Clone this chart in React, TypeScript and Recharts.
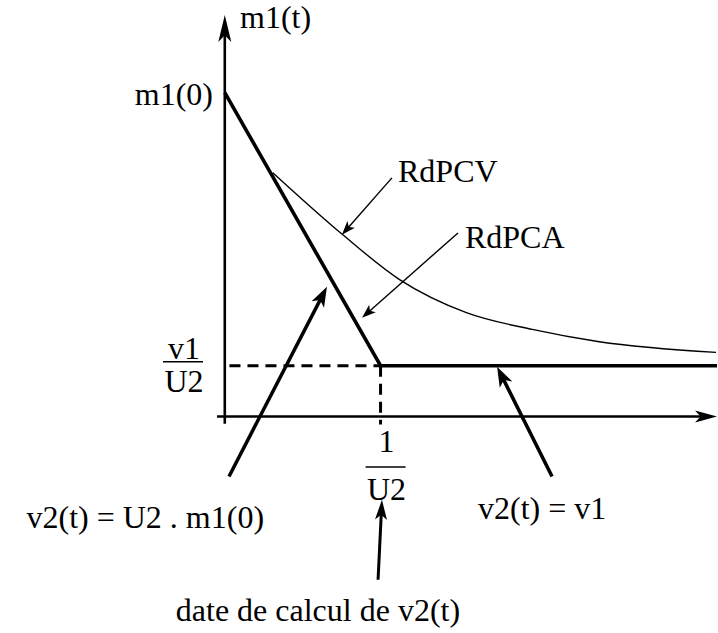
import { LineChart, Line, XAxis, YAxis, ReferenceLine, ReferenceDot } from 'recharts';

// t in units of 1/U2, m in units of m1(0)
const V1_U2 = 0.157;
const T_CALC = 1;

const RDPCA_T = [0, T_CALC, 3.16];
const RDPCA_M = [1, V1_U2, V1_U2];

const RDPCV_T = [0.308, 0.756, 1.122, 1.551, 1.974, 2.404, 3.154];
const RDPCV_M = [0.753, 0.562, 0.423, 0.321, 0.269, 0.231, 0.198];

const Y_TICKS = [V1_U2, 1];
const X_TICKS = [T_CALC];

const LABELS = ['m1(t)', 'RdPCV', 'RdPCA', 'v2(t) = U2 . m1(0)', 'v2(t) = v1', 'date de calcul de v2(t)'];

const rdpca = RDPCA_T.map((t, i) => ({ t, m: RDPCA_M[i] }));
const rdpcv = RDPCV_T.map((t, i) => ({ t, m: RDPCV_M[i] }));

// annotation placement, in data units
const LABEL_POS = [
  { t: 0.098, m: 1.2, anchor: 'start' },
  { t: 1.112, m: 0.725, anchor: 'start' },
  { t: 1.542, m: 0.521, anchor: 'start' },
  { t: 0.252, m: -0.345, anchor: 'end' },
  { t: 1.626, m: -0.315, anchor: 'start' },
  { t: 0.598, m: -0.633, anchor: 'middle' },
];

const ARROWS = [
  // axes
  { from: [0, -0.022], to: [0, 1.24], w: 2.6, head: 27, half: 6.5 },
  { from: [-0.05, 0], to: [3.16, 0], w: 2.6, head: 22, half: 6 },
  // thick pointers
  { from: [0.027, -0.185], to: [0.656, 0.401], w: 3.5, head: 20, half: 7 },
  { from: [2.101, -0.185], to: [1.748, 0.154], w: 3.5, head: 20, half: 7 },
  { from: [0.984, -0.504], to: [1.009, -0.257], w: 3, head: 20, half: 6 },
  // thin pointers
  { from: [1.073, 0.737], to: [0.752, 0.561], w: 1.4, head: 14, half: 5 },
  { from: [1.497, 0.567], to: [0.881, 0.305], w: 1.4, head: 14, half: 5 },
];

const SERIF = '"Liberation Serif", Tinos, "DejaVu Serif", "Noto Serif", serif';
const TXT = { fontFamily: SERIF, fontSize: 32 };

function arrowShape(w: number, head: number, half: number) {
  return (p: any) => {
    const { x1, y1, x2, y2 } = p;
    const dx = x2 - x1;
    const dy = y2 - y1;
    const len = Math.hypot(dx, dy) || 1;
    const ux = dx / len;
    const uy = dy / len;
    const bx = x2 - ux * head;
    const by = y2 - uy * head;
    const nx = -uy * half;
    const ny = ux * half;
    return (
      <g>
        <line x1={x1} y1={y1} x2={x2 - ux * head * 0.6} y2={y2 - uy * head * 0.6} stroke="#000" strokeWidth={w} />
        <polygon points={`${x2},${y2} ${bx + nx},${by + ny} ${x2 - ux * head * 0.75},${y2 - uy * head * 0.75} ${bx - nx},${by - ny}`} fill="#000" />
      </g>
    );
  };
}

function textShape(label: string, anchor: string) {
  return (p: any) => (
    <text x={p.cx} y={p.cy} textAnchor={anchor} fontFamily={SERIF} fontSize={32} style={TXT} fill="#000">
      {label}
    </text>
  );
}

const YTick = (p: any) => {
  const { x, y, payload } = p;
  if (payload.value === 1) {
    return (
      <text x={x - 4} y={y + 12} textAnchor="end" fontFamily={SERIF} style={TXT} fill="#000">
        m1(0)
      </text>
    );
  }
  const cx = x - 33;
  return (
    <g>
      <text x={cx} y={y - 7} textAnchor="middle" fontFamily={SERIF} style={TXT} fill="#000">v1</text>
      <line x1={cx - 21} x2={cx + 19} y1={y - 4} y2={y - 4} stroke="#000" strokeWidth={1.5} />
      <text x={cx} y={y + 26} textAnchor="middle" fontFamily={SERIF} style={TXT} fill="#000">U2</text>
    </g>
  );
};

const XTick = (p: any) => {
  const { x, y } = p;
  const cx = x + 6;
  return (
    <g>
      <text x={cx} y={y + 29} textAnchor="middle" fontFamily={SERIF} style={TXT} fill="#000">1</text>
      <line x1={cx - 21} x2={cx + 19} y1={y + 44} y2={y + 44} stroke="#000" strokeWidth={1.5} />
      <text x={cx} y={y + 77} textAnchor="middle" fontFamily={SERIF} style={TXT} fill="#000">U2</text>
    </g>
  );
};

export default function App() {
  return (
    <div style={{ width: 718, height: 633, background: '#fff', fontFamily: SERIF }}>
      <style>{'body{margin:0}'}</style>
      <LineChart width={718} height={633} margin={{ top: 15, right: 1, bottom: 209, left: 216 }}>
        <XAxis
          type="number"
          dataKey="t"
          domain={[-0.05, 3.16]}
          allowDataOverflow
          ticks={X_TICKS}
          tick={<XTick />}
          axisLine={false}
          tickLine={false}
          tickSize={0}
          tickMargin={0}
          height={1}
        />
        <YAxis
          type="number"
          dataKey="m"
          domain={[-0.02, 1.24]}
          allowDataOverflow
          ticks={Y_TICKS}
          tick={<YTick />}
          axisLine={false}
          tickLine={false}
          tickSize={0}
          tickMargin={0}
          width={1}
        />
        <ReferenceLine
          segment={[{ x: 0.03, y: V1_U2 }, { x: T_CALC, y: V1_U2 }]}
          stroke="#000"
          strokeWidth={3}
          strokeDasharray="11 7"
          ifOverflow="visible"
        />
        <ReferenceLine
          segment={[{ x: T_CALC, y: V1_U2 }, { x: T_CALC, y: -0.025 }]}
          stroke="#000"
          strokeWidth={3}
          strokeDasharray="11 7"
          ifOverflow="visible"
        />
        <Line data={rdpcv} dataKey="m" type="monotone" stroke="#000" strokeWidth={1.4} dot={false} isAnimationActive={false} />
        <Line data={rdpca} dataKey="m" type="linear" stroke="#000" strokeWidth={3.6} dot={false} isAnimationActive={false} />
        {ARROWS.map((a, i) => (
          <ReferenceLine
            key={`a${i}`}
            segment={[{ x: a.from[0], y: a.from[1] }, { x: a.to[0], y: a.to[1] }]}
            ifOverflow="visible"
            shape={arrowShape(a.w, a.head, a.half)}
          />
        ))}
        {LABELS.map((label, i) => (
          <ReferenceDot
            key={`l${i}`}
            x={LABEL_POS[i].t}
            y={LABEL_POS[i].m}
            r={0}
            ifOverflow="visible"
            shape={textShape(label, LABEL_POS[i].anchor)}
          />
        ))}
      </LineChart>
    </div>
  );
}
